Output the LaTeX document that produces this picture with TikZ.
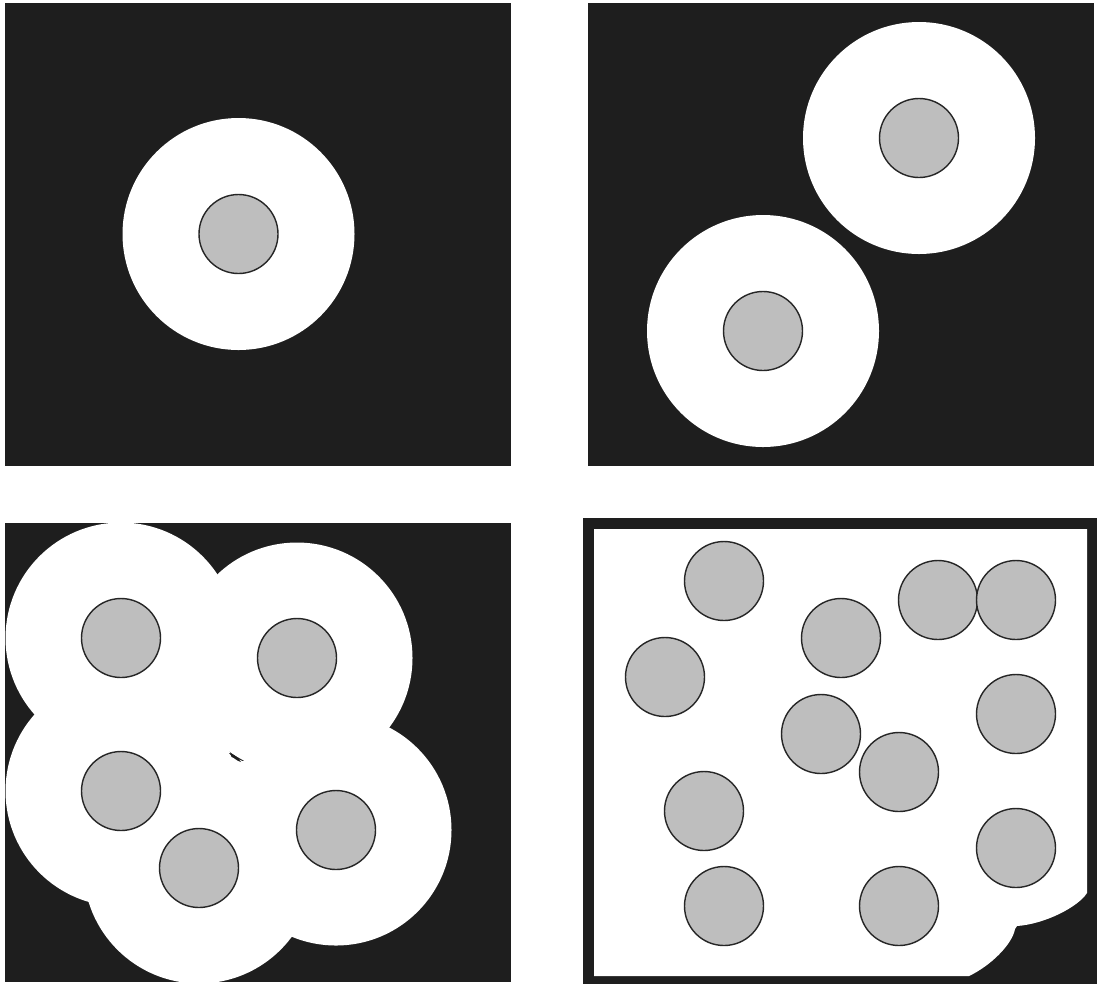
\documentclass[tikz,border=0pt]{standalone}
\definecolor{matrixdark}{HTML}{1E1E1E}
\definecolor{graingray}{HTML}{BEBEBE}
\begin{document}
\begin{tikzpicture}[x=1pt,y=-1pt,grain/.style={fill=graingray,draw=black!85,line width=1.4pt},halo/.style={fill=white}]
\useasboundingbox[fill=white] (0,0) rectangle (1099,986);
% one grain
\fill[matrixdark] (5,3) rectangle (511,466);
\fill[halo] (238.5,234) circle (116);\draw[grain] (238.5,234) circle (39.5);
% two grains
\fill[matrixdark] (588,3) rectangle (1094,466);
\foreach \x/\y in {919/138,763/331}{\fill[halo] (\x,\y) circle (116);\draw[grain] (\x,\y) circle (39.5);}
% five grains, overlapping halos
\fill[matrixdark] (5,523) rectangle (511,982);
\begin{scope}
\clip (5,523) rectangle (511,982);
\foreach \x/\y in {121/638,297/658,121/791,199/868,336/830}{\fill[halo] (\x,\y) circle (115.5);}
\end{scope}
\fill[matrixdark] (229,753) .. controls (233,754) and (238,757) .. (241,762) .. controls (237,761) and (232,757) .. (229,753);
\foreach \x/\y in {121/638,297/658,121/791,199/868,336/830}{\draw[grain] (\x,\y) circle (39.5);}
% many grains
\fill[matrixdark] (583,518) rectangle (1097,984);
\fill[white] (594,529) -- (1087,529) -- (1087,893) .. controls (1078,907) and (1045,924) .. (1017,926) -- (1015,929) .. controls (1012,945) and (990,966) .. (969,976) -- (594,976) -- cycle;
\foreach \x/\y in {724/581,841/638,938/600,1016/600,665/677,821/734,899/772,1016/714,704/811,1016/848,724/906,899/906}{\draw[grain] (\x,\y) circle (39.5);}
\end{tikzpicture}
\end{document}
